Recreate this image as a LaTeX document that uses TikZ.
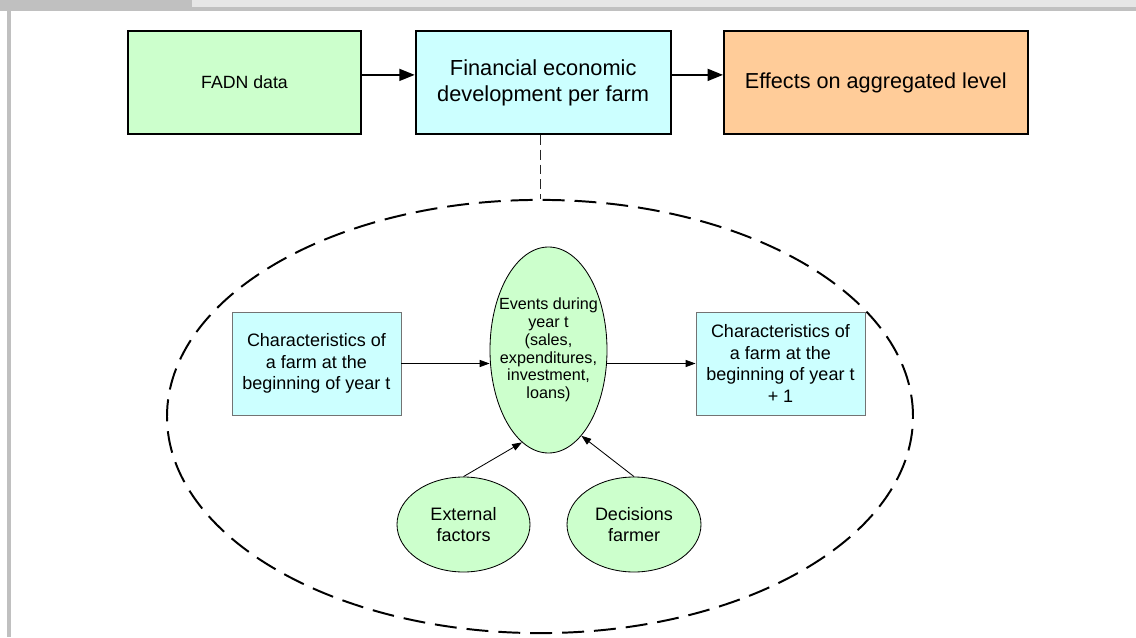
\documentclass[tikz,border=0pt]{standalone}
\usepackage{fontspec}
\setmainfont{Liberation Sans}
\usepackage{tikz}
\usetikzlibrary{arrows.meta, shapes.geometric, positioning}
\definecolor{boxgreen}{HTML}{CCFFCC}
\definecolor{boxcyan}{HTML}{CCFFFF}
\definecolor{boxorange}{HTML}{FFCC99}
\definecolor{bardark}{HTML}{C0C0C0}
\definecolor{barlight}{HTML}{E6E6E6}

\begin{document}
\begin{tikzpicture}[
        topbox/.style={draw, line width=1.4pt, minimum height=2.575cm, align=center, inner sep=2pt},
        innerbox/.style={draw=black!55, line width=0.7pt, fill=boxcyan, minimum width=4.225cm, minimum height=2.575cm, align=center, inner sep=1pt, font=\fontsize{12.8}{15.5}\selectfont},
        bubble/.style={draw, ellipse, fill=boxgreen, line width=0.6pt, inner sep=0pt, align=center},
        bigarrow/.style={-{Triangle[length=11pt,width=8.5pt]}, line width=1.4pt},
        smallarrow/.style={-{Triangle[length=7pt,width=5pt]}, line width=0.6pt}
    ]
        \useasboundingbox (0,0) rectangle (28.4,15.925);

        % Page frame
        \fill[bardark] (0,15.75) rectangle (4.8,15.925);
        \fill[barlight] (4.8,15.75) rectangle (28.4,15.925);
        \fill[bardark] (0,15.65) rectangle (28.4,15.75);
        \fill[bardark] (0.175,0) rectangle (0.275,15.65);

        % Top row
        \node[topbox, fill=boxgreen, minimum width=5.81cm, font=\fontsize{12.6}{15}\selectfont] (fadn) at (6.1125,13.8625) {FADN data};
        \node[topbox, fill=boxcyan, minimum width=6.375cm, font=\fontsize{15.5}{18.5}\selectfont] (fin) at (13.58,13.8625) {Financial economic\\development per farm};
        \node[topbox, fill=boxorange, minimum width=7.59cm, font=\fontsize{15.4}{18.5}\selectfont] (effects) at (21.895,13.8625) {Effects on aggregated level};
        \draw[bigarrow] ([yshift=0.19cm]fadn.east) -- ([yshift=0.19cm]fin.west);
        \draw[bigarrow] ([yshift=0.19cm]fin.east) -- ([yshift=0.19cm]effects.west);

        % Farm model
        \node[draw, ellipse, line width=1.4pt, dash pattern=on 15.6pt off 7.1pt, minimum width=18.65cm, minimum height=10.83cm] (farmmodel) at (13.5,5.5125) {};
        \draw[line width=0.7pt, black!85, dash pattern=on 7pt off 3.5pt] (farmmodel.north |- fin.south) -- (farmmodel.north);

        % Inside the farm model
        \node[innerbox] (start) at (7.9125,6.8375) {Characteristics of\\a farm at the\\beginning of year t};
        \node[innerbox] (next) at (19.5125,6.8375) {Characteristics of\\a farm at the\\beginning of year t\\+ 1};
        \node[bubble, inner xsep=-0.25cm, minimum width=2.925cm, minimum height=5.15cm, font=\fontsize{11.5}{12.6}\selectfont] (events) at (13.7125,7.175) {Events during\\year t\\(sales,\\expenditures,\\investment,\\loans)};
        \node[bubble, minimum width=3.325cm, minimum height=2.375cm, font=\fontsize{12.8}{15.4}\selectfont] (external) at (11.5875,2.8125) {External\\factors};
        \node[bubble, minimum width=3.35cm, minimum height=2.375cm, font=\fontsize{12.8}{15.4}\selectfont] (decisions) at (15.85,2.8125) {Decisions\\farmer};

        \draw[smallarrow] (start.east) -- (events.west |- start.east);
        \draw[smallarrow] (events.east |- next.west) -- (next.west);
        \draw[smallarrow] (external.north) -- (events.254);
        \draw[smallarrow] (decisions.north) -- (events.291);
    \end{tikzpicture}
\end{document}
